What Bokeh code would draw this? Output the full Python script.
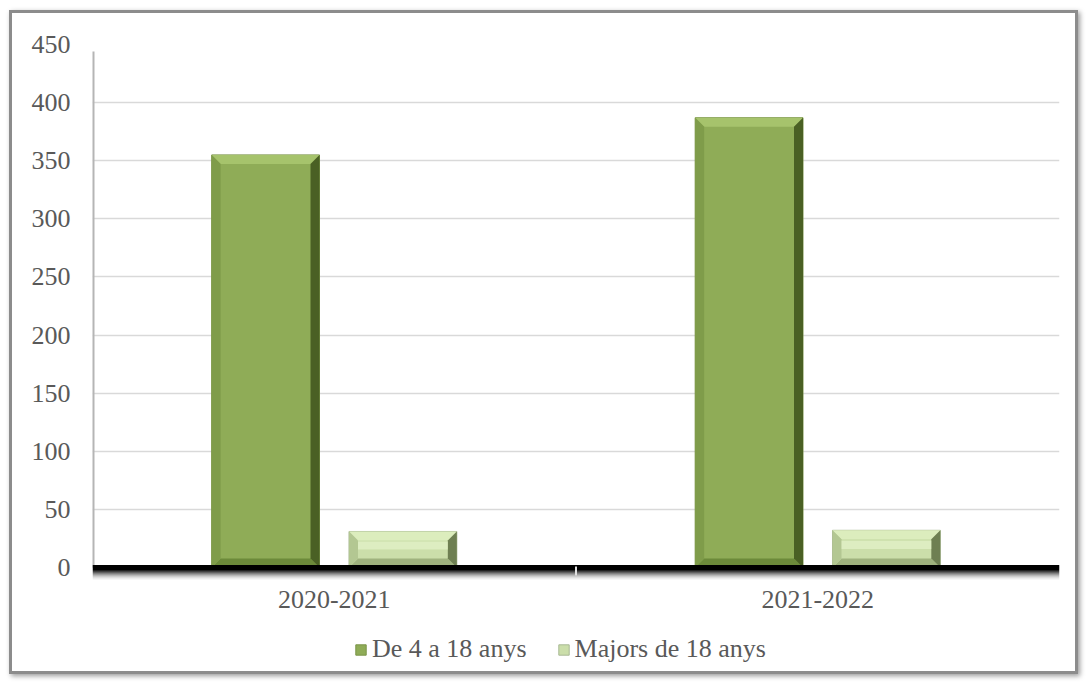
from bokeh.plotting import figure
from bokeh.models import Range1d, FixedTicker, Legend, LegendItem
from bokeh.core.properties import value
from bokeh.embed import file_html
from bokeh.resources import INLINE

# ---- data ----
categories = ["2020-2021", "2021-2022"]
series_names = ["De 4 a 18 anys", "Majors de 18 anys"]
de_4_a_18 = [355, 387]
majors_18 = [31, 32]
y_ticks = [0, 50, 100, 150, 200, 250, 300, 350, 400, 450]
y_max = 450

FONT = "Liberation Serif"
FS = "26px"
TXT = "#595959"

W, H = 1069, 664
ML, MT, MR, MB = 80, 31, 22, 0
AXIS_GAP_PX = 110            # space between the zero line and the bottom of the chart
frame_w = W - ML - MR
frame_h = H - MT - MB
plot_px = frame_h - AXIS_GAP_PX
upp = y_max / plot_px        # data units per pixel (vertical)
y_min = -AXIS_GAP_PX * upp
n = len(categories)

p = figure(width=W, height=H, output_backend="svg", toolbar_location=None,
           x_range=Range1d(0, n), y_range=Range1d(y_min, y_max),
           x_axis_location=None,
           min_border_left=ML, min_border_right=MR, min_border_top=MT, min_border_bottom=MB,
           background_fill_color="white", border_fill_color="white")
p.outline_line_color = None
p.styles = {"border": "3px solid #8c8c8c", "box-shadow": "2px 2px 5px #9a9a9a",
            "margin-left": "9px", "margin-top": "10px"}

# y axis
p.yaxis.ticker = FixedTicker(ticks=y_ticks)
p.yaxis.major_tick_line_color = None
p.yaxis.minor_tick_line_color = None
p.yaxis.major_tick_out = 0
p.yaxis.major_label_standoff = 22
p.yaxis.axis_line_color = None
p.yaxis.major_label_text_font = FONT
p.yaxis.major_label_text_font_size = FS
p.yaxis.major_label_text_color = TXT

p.xgrid.grid_line_color = None
p.ygrid.ticker = FixedTicker(ticks=y_ticks)
p.ygrid.grid_line_color = "#d9d9d9"
p.ygrid.grid_line_width = 1.5

# plot-area left shadow
p.segment(x0=[0], x1=[0], y0=[0], y1=[y_max - 7 * upp], line_color="#b5b5b5", line_width=4)

# bars with bevel effect
centers = [i + 0.5 for i in range(n)]
bar_w = 0.223
offsets = [-0.142, 0.142]
px_x = frame_w / n
bx = 9 / px_x
by = 9 * upp

styles = [
    dict(main="#8fac57", top="#a6c36c", bottom="#6c8a3a", left="#7f9c4a", right="#4a6024", line="#7a9448"),
    dict(main="#cbdeaa", top="#dcedbd", bottom="#9fb27e", left="#b3c792", right="#6e7f52", line="#a9b994"),
]

items = []
for s, (vals, st) in enumerate(zip([de_4_a_18, majors_18], styles)):
    xs = [c + offsets[s] for c in centers]
    r = p.vbar(x=xs, top=vals, bottom=0, width=bar_w, fill_color=st["main"],
               line_color=st["line"], line_width=1)
    items.append(LegendItem(label=series_names[s], renderers=[r]))
    tx, ty, bxs, bys, lx, ly, rx, ry, hx, hy = [], [], [], [], [], [], [], [], [], []
    for x, v in zip(xs, vals):
        L, R, T, B = x - bar_w / 2, x + bar_w / 2, v, 0
        tx.append([L, R, R - bx, L + bx]); ty.append([T, T, T - by, T - by])
        bxs.append([L, R, R - bx, L + bx]); bys.append([B, B, B + by, B + by])
        lx.append([L, L, L + bx, L + bx]); ly.append([B, T, T - by, B + by])
        rx.append([R, R, R - bx, R - bx]); ry.append([B, T, T - by, B + by])
        if s == 1:
            hgt = T - B
            hx.append([L + bx, R - bx, R - bx, L + bx])
            hy.append([B + hgt * 0.5, B + hgt * 0.5, B + hgt * 0.72, B + hgt * 0.72])
    p.patches(tx, ty, fill_color=st["top"], line_color=None)
    p.patches(bxs, bys, fill_color=st["bottom"], line_color=None)
    p.patches(lx, ly, fill_color=st["left"], line_color=None)
    p.patches(rx, ry, fill_color=st["right"], line_color=None)
    if hx:
        p.patches(hx, hy, fill_color="#e9f6d0", fill_alpha=0.6, line_color=None)

# category axis: thick black baseline with soft shadow, boundary tick, labels
shadow = [("#202020", 3), ("#404040", 4), ("#606060", 5), ("#808080", 6), ("#9c9c9c", 7),
          ("#b6b6b6", 8), ("#cccccc", 9), ("#dedede", 10), ("#ececec", 11), ("#f6f6f6", 12)]
for col, off in shadow:
    p.segment(x0=[0], x1=[n], y0=[-off * upp], y1=[-off * upp], line_color=col, line_width=1.2)
p.segment(x0=[0], x1=[n], y0=[0], y1=[0], line_color="black", line_width=5)
bounds = [float(i) for i in range(1, n)]
p.segment(x0=bounds, x1=bounds, y0=[1 * upp] * len(bounds), y1=[-8 * upp] * len(bounds),
          line_color="#e0e0e0", line_width=2)
p.text(x=centers, y=[-32 * upp] * n, text=categories, text_font=value(FONT),
       text_font_size=FS, text_color=TXT, text_align="center", text_baseline="middle")

legend = Legend(items=items, orientation="horizontal", location=(262, 13),
                label_text_font=FONT, label_text_font_size=FS, label_text_color=TXT,
                glyph_width=13, glyph_height=13, label_standoff=5, spacing=30,
                padding=0, margin=0,
                border_line_color=None, background_fill_alpha=0)
p.add_layout(legend, "center")

open("out.html", "w").write(file_html(p, INLINE))
